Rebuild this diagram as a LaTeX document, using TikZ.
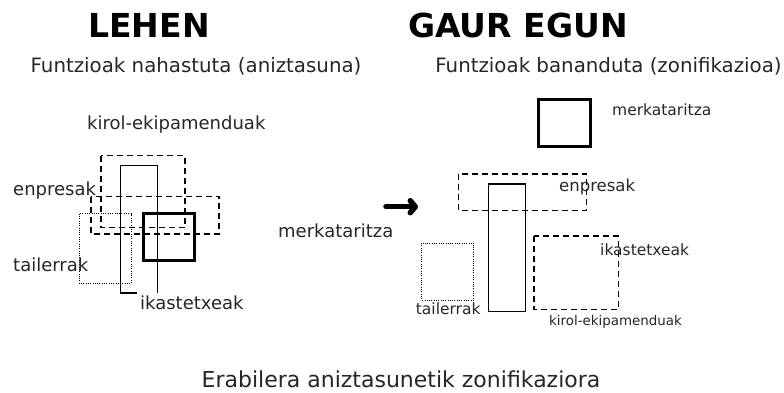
\documentclass[tikz,border=0pt]{standalone}
\usepackage{fontspec}
\setmainfont{DejaVu Sans}
\usetikzlibrary{arrows.meta}
\tikzset{
  lbl/.style={inner sep=0pt, anchor=west, text=black!85},
  thinbox/.style={draw=black, line width=1.3pt},
  thickbox/.style={draw=black, line width=3pt},
  dashbox/.style={draw=black, line width=1.3pt, dash pattern=on 6pt off 4pt},
  dotbox/.style={draw=black, line width=1pt, dash pattern=on 1pt off 1.3pt},
  ttl/.style={inner sep=0pt, font=\fontsize{33}{36}\selectfont\bfseries},
  sub/.style={inner sep=0pt, font=\fontsize{19.8}{22}\selectfont, text=black!85},
  bigl/.style={lbl, font=\fontsize{18}{20}\selectfont},
  smalll/.style={lbl, font=\fontsize{15.5}{18}\selectfont},
}
\begin{document}
\begin{tikzpicture}[x=1pt,y=-1pt]
\useasboundingbox (0,0) rectangle (784,392);
% titles
\node[ttl] (t1) at (149,25) {LEHEN};
\node[ttl] (t2) at (518,25) {GAUR EGUN};
\node[sub] (s1) at (196,66) {Funtzioak nahastuta (aniztasuna)};
\node[sub] (s2) at (608.5,66) {Funtzioak bananduta (zonifikazioa)};
\node[inner sep=0pt, font=\fontsize{22}{24}\selectfont, text=black!85] (cap) at (401,379) {Erabilera aniztasunetik zonifikaziora};

% left diagram
\draw[dashbox] (101,155.7) rectangle (185,227.7);
\draw[dashbox] (91,196.7) rectangle (219,234);
\draw[dotbox] (79.3,213.7) rectangle (131.3,283.3);
\draw[thinbox] (136.7,293) -- (120.7,293) -- (120.7,165.7) -- (157.7,165.7) -- (157.7,292.7);
\draw[thickbox] (143.3,213.3) rectangle (194.3,260.7);
\node[bigl] (lk) at (87,125) {kirol-ekipamenduak};
\node[bigl] (le) at (13,190.5) {enpresak};
\node[bigl] (lt) at (13,265) {tailerrak};
\node[bigl] (li) at (140,303) {ikastetxeak};
\node[bigl] (lm) at (278,230.5) {merkataritza};

% arrow
\coordinate (a1) at (386,206.7);
\coordinate (a2) at (418,206.7);
\draw[line width=5.5pt, line cap=round, -{Straight Barb[length=5pt,width=12pt,round]}] (a1) -- (a2);

% right diagram
\draw[thickbox] (538.3,99) rectangle (590.7,146.7);
\draw[dashbox] (458.7,174) rectangle (586.7,210.7);
\draw[thinbox] (488.3,184) rectangle (525.7,311.7);
\draw[dotbox] (421.7,243) rectangle (473.7,300);
\draw[dashbox] (534,236) rectangle (618.3,309.3);
\node[smalll] (rm) at (612,110) {merkataritza};
\node[lbl, font=\fontsize{16.5}{19}\selectfont] (re) at (559,187.3) {enpresak};
\node[smalll] (ri) at (600,249.3) {ikastetxeak};
\node[smalll] (rt) at (415.7,309) {tailerrak};
\node[lbl, font=\fontsize{13.4}{16}\selectfont] (rk) at (549,322) {kirol-ekipamenduak};
\end{tikzpicture}
\end{document}
